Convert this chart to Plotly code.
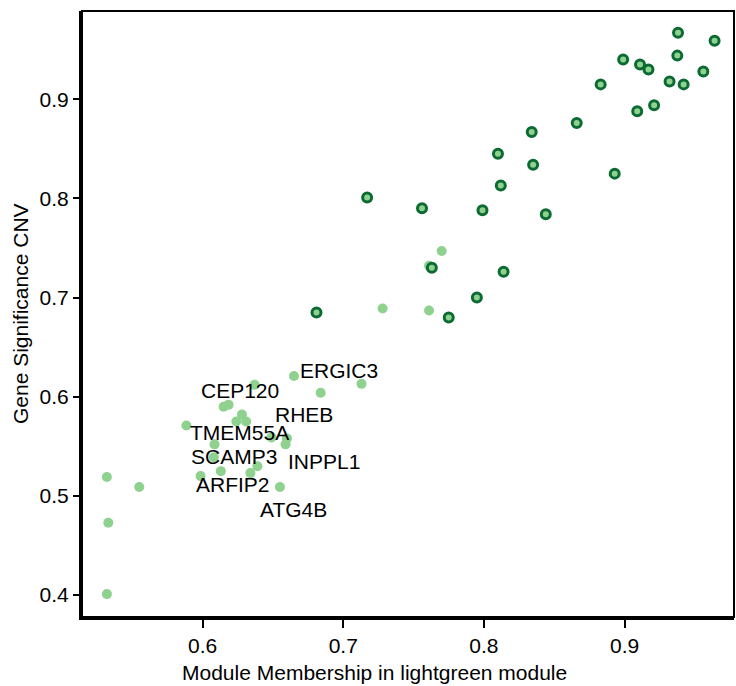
import plotly.graph_objects as go

# Hub genes (dark-outlined points)
hub_mm = [0.938, 0.964, 0.899, 0.911, 0.917, 0.9375, 0.956, 0.932, 0.942, 0.883,
          0.921, 0.909, 0.866, 0.834, 0.810, 0.835, 0.893, 0.812, 0.756, 0.799,
          0.844, 0.717, 0.763, 0.814, 0.795, 0.775, 0.681]
hub_gs = [0.967, 0.959, 0.940, 0.935, 0.930, 0.944, 0.928, 0.918, 0.915, 0.915,
          0.894, 0.888, 0.876, 0.867, 0.845, 0.834, 0.825, 0.813, 0.790, 0.788,
          0.784, 0.801, 0.730, 0.726, 0.700, 0.680, 0.685]

# Other module genes (light points)
gene_mm = [0.770, 0.761, 0.728, 0.761, 0.665, 0.713, 0.684, 0.637, 0.615, 0.6185,
           0.628, 0.624, 0.631, 0.5885, 0.649, 0.660, 0.659, 0.6085, 0.608, 0.613,
           0.5986, 0.634, 0.639, 0.655, 0.532, 0.555, 0.533, 0.532]
gene_gs = [0.747, 0.732, 0.689, 0.687, 0.621, 0.613, 0.604, 0.612, 0.590, 0.592,
           0.582, 0.575, 0.575, 0.571, 0.559, 0.558, 0.552, 0.552, 0.539, 0.525,
           0.520, 0.523, 0.530, 0.509, 0.519, 0.509, 0.473, 0.401]

# Gene labels and where they sit (data coordinates)
label_names = ["ERGIC3", "CEP120", "RHEB", "TMEM55A", "SCAMP3", "INPPL1", "ARFIP2", "ATG4B"]
label_mm = [0.697, 0.6267, 0.6718, 0.6264, 0.6224, 0.6862, 0.6219, 0.6645]
label_gs = [0.6268, 0.6061, 0.582, 0.5638, 0.5401, 0.5351, 0.5114, 0.4867]

x_ticks = [0.6, 0.7, 0.8, 0.9]
y_ticks = [0.4, 0.5, 0.6, 0.7, 0.8, 0.9]

LIGHT = "#8fd18f"
DARK = "#0b6b33"
FONT = "Liberation Sans, Arial, Helvetica, sans-serif"

fig = go.Figure()
fig.add_trace(go.Scatter(
    x=gene_mm, y=gene_gs, mode="markers",
    marker=dict(size=10, color=LIGHT, line=dict(width=0)),
    hoverinfo="x+y", showlegend=False))
fig.add_trace(go.Scatter(
    x=hub_mm, y=hub_gs, mode="markers",
    marker=dict(size=9, color=LIGHT, line=dict(width=3, color=DARK)),
    hoverinfo="x+y", showlegend=False))

for name, lx, ly in zip(label_names, label_mm, label_gs):
    fig.add_annotation(x=lx, y=ly, text=name, showarrow=False,
                       xanchor="center", yanchor="middle",
                       font=dict(family=FONT, size=21, color="black"))

fig.add_annotation(xref="paper", yref="paper", x=0.448, y=-0.092,
                   text="Module Membership in lightgreen module", showarrow=False,
                   xanchor="center", yanchor="middle",
                   font=dict(family=FONT, size=21, color="black"))
fig.add_annotation(xref="paper", yref="paper", x=-0.095, y=0.5,
                   text="Gene Significance CNV", showarrow=False, textangle=-90,
                   xanchor="center", yanchor="middle",
                   font=dict(family=FONT, size=21, color="black"))

fig.add_shape(type="rect", xref="paper", yref="paper", x0=0, y0=0, x1=1, y1=1,
              line=dict(color="black", width=2), layer="above")

fig.update_xaxes(range=[0.5143, 0.9778], tickvals=x_ticks,
                 ticktext=[f"{v:.1f}" for v in x_ticks],
                 showgrid=False, zeroline=False, showline=True, linecolor="black",
                 linewidth=3, ticks="outside", ticklen=8, tickwidth=2,
                 tickcolor="black", tickfont=dict(family=FONT, size=21, color="black"))
fig.update_yaxes(range=[0.3779, 0.989], tickvals=y_ticks,
                 ticktext=[f"{v:.1f}" for v in y_ticks],
                 showgrid=False, zeroline=False, showline=True, linecolor="black",
                 linewidth=3, ticks="outside", ticklen=6, tickwidth=2,
                 tickcolor="black", tickfont=dict(family=FONT, size=21, color="black"))

fig.update_layout(width=736, height=686,
                  margin=dict(l=82, r=2, t=11, b=69, autoexpand=False),
                  plot_bgcolor="white", paper_bgcolor="white")

fig.write_html("out.html")
